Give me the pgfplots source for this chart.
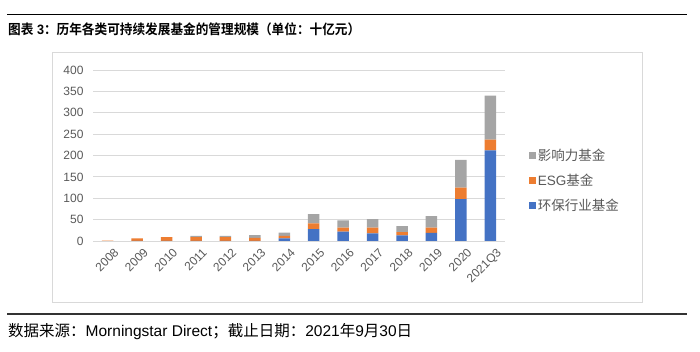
\documentclass[border=0pt]{standalone}
\usepackage{pgfplots}
\pgfplotsset{compat=1.18}
\usepackage{fontspec}
\setmainfont{Liberation Sans}
\newfontfamily\cjk{Noto Sans CJK SC}[BoldFont={Noto Sans CJK SC Bold}]
\definecolor{cblue}{HTML}{4472C4}
\definecolor{corange}{HTML}{ED7D31}
\definecolor{cgray}{HTML}{A5A5A5}
\definecolor{gridgray}{HTML}{D9D9D9}
\definecolor{tickgray}{HTML}{595959}
\definecolor{boxgray}{HTML}{D9D9D9}
\begin{document}
\begin{tikzpicture}[x=1pt,y=1pt]
\path (0,0) rectangle (700,352);
\draw[line width=1.2pt] (7,337.5) -- (687,337.5);
\node[anchor=west,inner sep=0] at (8,322.5) {\scalebox{0.93}[1]{\fontsize{13.6}{15}\selectfont{\cjk\bfseries 图表}\textbf{ 3}{\cjk\bfseries ：历年各类可持续发展基金的管理规模（单位：十亿元）}}};
\draw[boxgray, line width=0.8pt] (52,50) rectangle (642,300);
\draw[line width=1.2pt, black!80] (7,38) -- (687,38);
\node[anchor=west,inner sep=0] at (8,20) {\fontsize{15.5}{17}\selectfont{\cjk 数据来源：}Morningstar Direct{\cjk ；截止日期：}2021{\cjk 年}9{\cjk 月}30{\cjk 日}};
\begin{axis}[
  at={(93pt,111pt)}, anchor=south west,
  width=412pt, height=171pt, scale only axis,
  ybar stacked, bar width=11.5pt,
  xmin=-0.5, xmax=13.5, ymin=0, ymax=400,
  ytick={0,50,...,400},
  xtick={0,...,13},
  xticklabels={2008,2009,2010,2011,2012,2013,2014,2015,2016,2017,2018,2019,2020,2021Q3},
  axis line style={draw=none},
  major tick length=0pt,
  ymajorgrids, grid style={color=gridgray, line width=0.8pt},
  tick label style={color=tickgray, font=\fontsize{12}{14}\selectfont},
  /pgf/number format/assume math mode=true,
  yticklabel style={xshift=-6pt},
  xticklabel style={rotate=45, anchor=north east, xshift=3pt, yshift=-5pt},
  legend style={at={(1.05,0.56)}, anchor=north west, draw=none, fill=none,
    font=\fontsize{13.5}{15}\selectfont\cjk, text=tickgray, row sep=8pt},
  legend cell align=left,
  reverse legend,
  legend image code/.code={\fill[#1,draw=none] (0pt,-3.5pt) rectangle (7pt,3.5pt);},
]
\addplot[fill=cblue, draw=none] coordinates {(0,0) (1,0.3) (2,0.3) (3,0.4) (4,0.4) (5,0.5) (6,6) (7,28) (8,22) (9,18) (10,13) (11,19) (12,98) (13,212)};
\addplot[fill=corange, draw=none] coordinates {(0,1) (1,6) (2,8.5) (3,8.5) (4,8.5) (5,7) (6,6) (7,13) (8,9) (9,13) (10,8) (11,12) (12,27) (13,25)};
\addplot[fill=cgray, draw=none] coordinates {(0,0) (1,0) (2,0.5) (3,3) (4,3) (5,6) (6,7.5) (7,22) (8,17) (9,20) (10,14) (11,27) (12,65) (13,103)};
\legend{环保行业基金,{\rmfamily ESG}基金,影响力基金}
\end{axis}
\end{tikzpicture}
\end{document}
